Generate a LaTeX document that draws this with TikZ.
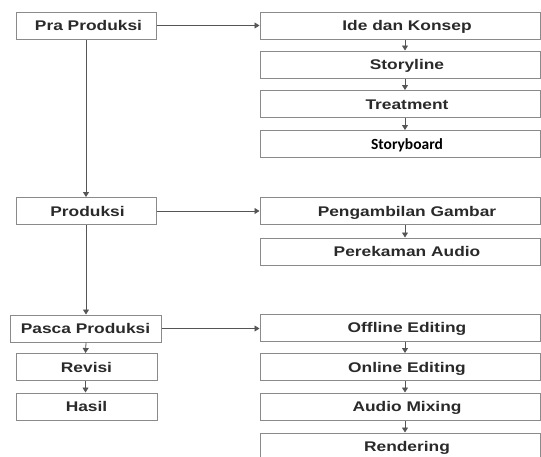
\documentclass[tikz,border=0pt]{standalone}
\usepackage{fontspec}
\newfontfamily\arialx[FakeStretch=1.24]{Liberation Sans}
\newfontfamily\calx{Carlito}
\usetikzlibrary{arrows.meta}
\definecolor{boxline}{HTML}{8A8A8A}
\definecolor{arrline}{HTML}{555555}
\definecolor{txt}{HTML}{2A2A2A}
\begin{document}
\begin{tikzpicture}[x=1pt,y=-1pt,
  box/.style={draw=boxline, line width=1pt, fill=white, rectangle, inner sep=0pt,
    minimum height=27pt, text height=10pt, text depth=0pt, text=txt,
    font=\arialx\bfseries\fontsize{14pt}{16pt}\selectfont},
  lbox/.style={box, minimum width=140pt},
  rbox/.style={box, minimum width=280pt},
  arr/.style={draw=arrline, line width=0.8pt, -{Triangle[length=5pt,width=6pt]}}]
\useasboundingbox (0,0) rectangle (541,456);
\fill[white] (0,0) rectangle (541,456);
% left column
\node[lbox] (pra) at (86,25.5) {\hspace*{5pt}Pra Produksi};
\node[lbox] (prod) at (86,211) {\hspace*{3pt}Produksi};
\node[box, minimum width=151pt] (pasca) at (85.5,328.5) {Pasca Produksi};
\node[lbox, minimum width=141pt] (rev) at (86.5,367) {Revisi};
\node[lbox, minimum width=141pt] (hasil) at (86.5,406.5) {Hasil};
% right column
\node[rbox] (ide) at (400,25.5) {\hspace*{14pt}Ide dan Konsep};
\node[rbox] (story) at (400,64.5) {\hspace*{14pt}Storyline};
\node[rbox] (treat) at (400,104) {\hspace*{14pt}Treatment};
\node[rbox, font=\calx\bfseries\fontsize{15.5pt}{17pt}\selectfont, text=black] (board) at (400,144) {\hspace*{14pt}Storyboard};
\node[rbox] (ambil) at (400,211) {\hspace*{14pt}Pengambilan Gambar};
\node[rbox] (rekam) at (400,251.5) {\hspace*{14pt}Perekaman Audio};
\node[rbox] (off) at (400,327.5) {\hspace*{14pt}Offline Editing};
\node[rbox] (on) at (400,367) {\hspace*{14pt}Online Editing};
\node[rbox] (mix) at (400,406.5) {\hspace*{14pt}Audio Mixing};
\node[rbox] (rend) at (400,446.5) {\hspace*{14pt}Rendering};
% horizontal arrows
\draw[arr] (pra.east) -- (ide.west);
\draw[arr] (prod.east) -- (ambil.west);
\draw[arr] (pasca.east) -- (pasca.east -| off.west);
% left vertical arrows
\draw[arr] (pra.south) -- (prod.north);
\draw[arr] (prod.south) -- (prod.south |- pasca.north);
\draw[arr] ([xshift=0.5pt]pasca.south) -- (rev.north -| pasca.south);
\draw[arr] (rev.south -| pasca.south) -- (hasil.north -| pasca.south);
% right vertical arrows
\foreach \a/\b in {ide/story, story/treat, treat/board, ambil/rekam, off/on, on/mix, mix/rend}
  \draw[arr] ([xshift=5pt]\a.south) -- ([xshift=5pt]\b.north);
\end{tikzpicture}
\end{document}
